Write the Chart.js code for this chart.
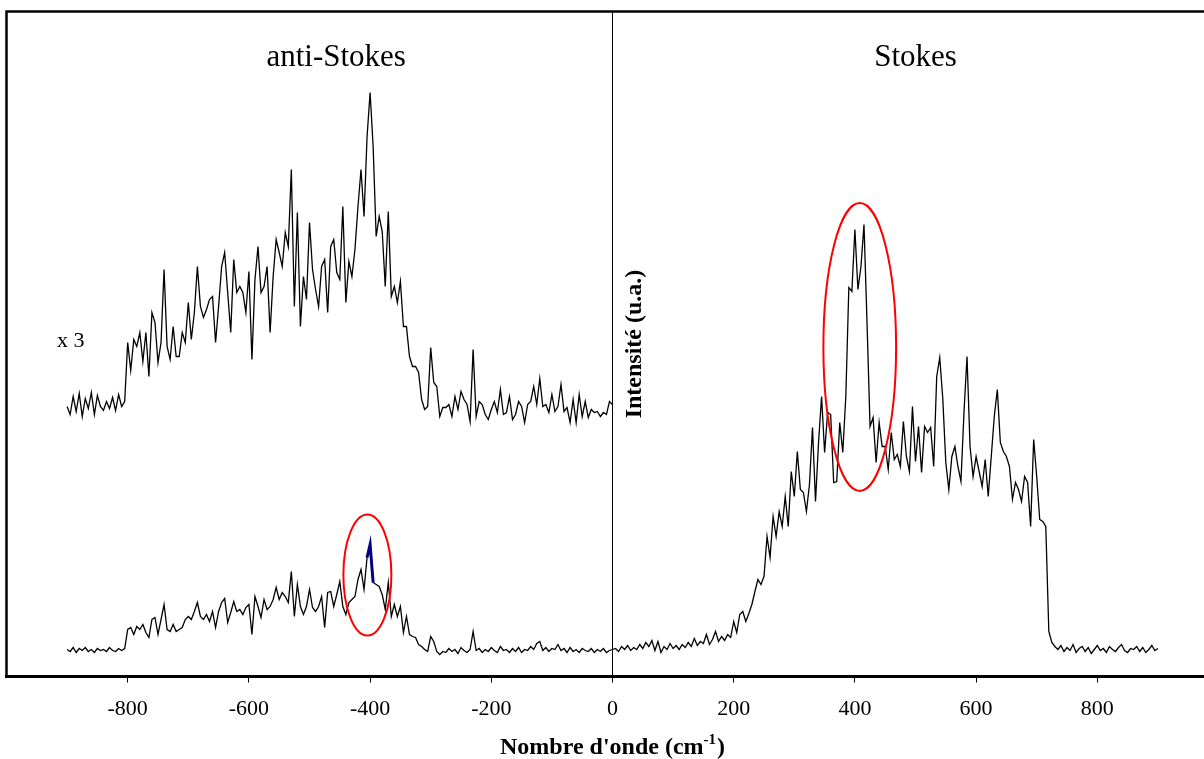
<!DOCTYPE html>
<html><head><meta charset="utf-8">
<script src="https://cdn.jsdelivr.net/npm/chart.js@4.4.1/dist/chart.umd.min.js"></script>
<style>
html,body{margin:0;padding:0;overflow:hidden;background:#fff;width:1204px;height:759px}
canvas{display:block}
</style></head><body>
<canvas id="c" width="1230" height="759" style="width:1230px;height:759px"></canvas>
<script>
// Wavenumber grid (cm-1)
const waveStart = -900;
const waveStep = 5;

// anti-Stokes region multiplied by 3 (upper trace), -900 .. 0
const antiStokesX3 = [
 270,262,280,265,283,260,278,268,284,262,281,270,266,275,268,279,266,282,270,
 275,334,306,337,330,344,315,344,300,364,
 354,314,334,407,330,317,350,320,320,344,
 334,374,337,364,410,370,359,367,377,380,
 334,370,410,424,384,344,417,384,390,384,
 364,405,317,397,430,384,390,410,344,400,
 437,424,410,444,430,507,370,464,350,400,
 377,454,407,387,370,410,417,364,430,437,404,397,
 470,374,415,400,427,470,507,460,540,584,
 530,440,460,445,390,465,380,390,374,395,
 350,350,320,310,310,304,277,267,270,329,
 294,290,260,269,269,272,260,280,267,285,
 277,272,255,327,260,275,272,262,257,267,
 275,264,287,262,264,280,257,262,275,270,
 254,272,275,290,272,298,270,272,264,282,
 265,270,292,265,269,254,277,254,282,260,
 275,259,267,264,265,260,264,262,275,272
];

// Full spectrum (lower trace), -900 .. 900
const spectrum = [
 27,25,29,24,28,26,29,25,27,24,28,26,27,25,29,26,25,28,26,
 28,
 47,49,42,50,47,52,44,39,57,59,
 42,57,72,47,45,52,45,47,49,57,
 60,57,65,74,60,57,62,55,65,49,
 65,74,78,54,64,75,65,67,62,69,
 72,42,80,70,59,77,67,70,77,89,
 77,84,80,74,105,60,92,70,62,70,
 87,69,65,70,80,49,84,85,70,82,
 95,70,62,74,77,80,97,107,87,119,
 132,94,92,90,82,67,94,60,72,60,
 70,44,60,42,40,39,32,30,27,25,
 40,35,25,22,25,
 24,28,25,27,23,29,26,24,27,45,26,28,24,27,25,29,26,24,30,26,
 27,24,28,25,29,24,27,26,30,27,33,35,26,29,25,28,27,32,26,28,
 24,29,25,27,24,28,26,25,28,24,27,25,28,24,26,27,
 28,25,30,27,31,26,29,27,32,28,
 34,30,36,26,35,24,30,27,33,28,
 31,27,32,29,34,30,38,31,35,33,
 42,32,37,45,35,40,36,42,39,55,
 44,62,65,55,63,72,85,97,92,100,
 140,119,160,140,165,150,180,150,205,180,
 225,187,184,165,192,249,175,234,280,224,
 264,262,194,195,254,224,280,389,385,447,
 387,410,452,354,250,259,214,254,230,230,
 207,244,217,222,210,255,220,205,270,215,
 250,204,250,244,249,210,300,319,278,214,
 187,220,230,210,195,264,320,230,200,220,
 205,190,217,180,220,260,287,234,225,220,
 210,177,194,187,175,200,194,150,237,200,
 157,155,150,45,34,30,27,31,25,29,
 26,32,24,28,30,25,29,23,27,31,26,28,24,30,27,25,29,32,26,24,28,27,30,25,29,24,27,31,26,28
];

// Highlighted band in the lower anti-Stokes trace (cm-1)
const blueRange = [-405, -395];

// X axis tick values
const xTicks = [-800, -600, -400, -200, 0, 200, 400, 600, 800];

// Annotation texts
const labelAntiStokes = 'anti-Stokes';
const labelStokes = 'Stokes';
const labelFactor = 'x 3';
const xTitleMain = "Nombre d'onde (cm";
const xTitleSup = '-1';
const xTitleEnd = ')';
const yTitle = 'Intensité (u.a.)';

const toPoints = arr => arr.map((v, i) => ({x: waveStart + i * waveStep, y: v}));
const lowerPts = toPoints(spectrum);
const upperPts = toPoints(antiStokesX3);
const bluePts = lowerPts.filter(p => p.x >= blueRange[0] && p.x <= blueRange[1]);

const SERIF = '"Liberation Serif", "Times New Roman", serif';

const decorPlugin = {
  id: 'decor',
  afterDatasetsDraw(chart) {
    const {ctx, chartArea: ca, scales: {x, y}} = chart;
    ctx.save();
    // frame (left, top, right)
    ctx.strokeStyle = '#000';
    ctx.lineWidth = 2.5;
    ctx.beginPath();
    ctx.moveTo(ca.left, ca.bottom);
    ctx.lineTo(ca.left, ca.top);
    ctx.lineTo(ca.right, ca.top);
    ctx.lineTo(ca.right, ca.bottom);
    ctx.stroke();

    // red ellipses
    const ell = [
      {cx: 408, cy: 329.5, rx: 60, ry: 144},
      {cx: -404.5, cy: 101.5, rx: 39.6, ry: 60.5}
    ];
    ctx.strokeStyle = '#ff0000';
    ctx.lineWidth = 2;
    ell.forEach(e => {
      const px = x.getPixelForValue(e.cx), py = y.getPixelForValue(e.cy);
      const rxp = Math.abs(x.getPixelForValue(e.cx + e.rx) - px);
      const ryp = Math.abs(y.getPixelForValue(e.cy + e.ry) - py);
      ctx.beginPath();
      ctx.ellipse(px, py, rxp, ryp, 0, 0, Math.PI * 2);
      ctx.stroke();
    });

    // texts
    ctx.fillStyle = '#000';
    ctx.textBaseline = 'alphabetic';
    ctx.font = '31px ' + SERIF;
    ctx.textAlign = 'center';
    ctx.fillText(labelAntiStokes, x.getPixelForValue(-456), 66);
    ctx.fillText(labelStokes, x.getPixelForValue(500), 66);
    ctx.font = '22px ' + SERIF;
    ctx.textAlign = 'left';
    ctx.fillText(labelFactor, 57, 347);

    // x title with superscript
    const fMain = 'bold 24px ' + SERIF, fSup = 'bold 15px ' + SERIF;
    ctx.font = fMain;
    const w1 = ctx.measureText(xTitleMain).width;
    const w3 = ctx.measureText(xTitleEnd).width;
    ctx.font = fSup;
    const w2 = ctx.measureText(xTitleSup).width;
    const total = w1 + w2 + w3 + 1;
    let tx = x.getPixelForValue(0) - total / 2;
    const base = 754;
    ctx.textAlign = 'left';
    ctx.font = fMain; ctx.fillText(xTitleMain, tx, base); tx += w1;
    ctx.font = fSup; ctx.fillText(xTitleSup, tx, base - 10); tx += w2 + 1;
    ctx.font = fMain; ctx.fillText(xTitleEnd, tx, base);

    // y title (rotated)
    ctx.save();
    ctx.translate(x.getPixelForValue(0) + 28.5, 344);
    ctx.rotate(-Math.PI / 2);
    ctx.font = 'bold 24px ' + SERIF;
    ctx.textAlign = 'center';
    ctx.fillText(yTitle, 0, 0);
    ctx.restore();
    ctx.restore();
  }
};

new Chart(document.getElementById('c'), {
  type: 'line',
  data: {
    datasets: [
      {data: bluePts, borderColor: '#000080', borderWidth: 3, pointRadius: 0, fill: false},
      {data: lowerPts, borderColor: '#000', borderWidth: 1.3, pointRadius: 0, fill: false},
      {data: upperPts, borderColor: '#000', borderWidth: 1.3, pointRadius: 0, fill: false}
    ]
  },
  options: {
    responsive: false,
    animation: false,
    events: [],
    layout: {padding: {left: 6.5, right: 11.5, top: 11.5, bottom: 0}},
    plugins: {legend: {display: false}, tooltip: {enabled: false}},
    elements: {line: {tension: 0}, point: {radius: 0}},
    scales: {
      x: {
        type: 'linear', position: 'bottom', min: -1000, max: 1000,
        afterBuildTicks: s => { s.ticks = xTicks.map(v => ({value: v})); },
        afterFit: s => { s.height = 82.5; },
        grid: {display: true, drawOnChartArea: false, drawTicks: true, tickLength: 6, color: '#000', lineWidth: 1},
        border: {display: true, color: '#000', width: 3},
        ticks: {color: '#000', font: {family: SERIF, size: 22}, padding: 14, maxRotation: 0, autoSkip: false}
      },
      y: {
        type: 'linear', position: {x: 0}, min: 0, max: 665,
        grid: {display: false, drawTicks: false},
        ticks: {display: false},
        border: {display: true, color: '#000', width: 1}
      }
    }
  },
  plugins: [decorPlugin]
});
</script>
</body></html>
